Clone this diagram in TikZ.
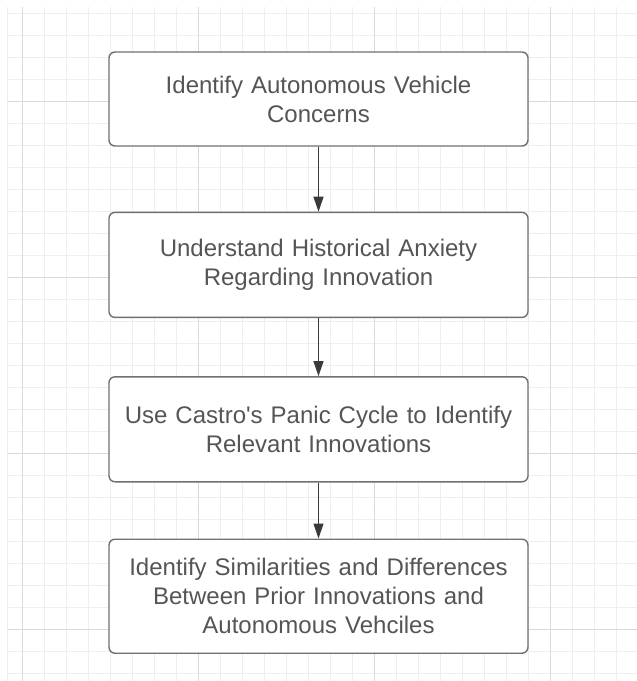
\documentclass[tikz,border=0pt]{standalone}
\usepackage{fontspec}
\setmainfont{Liberation Sans}
\usetikzlibrary{positioning, arrows.meta}
\definecolor{gridminor}{HTML}{EEEEEE}
\definecolor{gridmajor}{HTML}{DADADA}
\definecolor{boxline}{HTML}{707070}
\definecolor{boxtext}{HTML}{555555}
\definecolor{arrowline}{HTML}{3A3A3A}

\begin{document}
\begin{tikzpicture}[x=1pt, y=1pt,
  stepbox/.style={rectangle, rounded corners=6pt, draw=boxline, line width=1.4pt, fill=white,
    minimum width=419pt, text width=405pt, align=center, inner sep=4pt,
    text=boxtext, font=\fontsize{24}{29}\selectfont},
  flow/.style={draw=arrowline, line width=1.2pt, -{Triangle[length=15pt, width=10pt]}}]
%

%%% background and grid
\useasboundingbox (0,0) rectangle (637,-681);
\fill[white] (0,0) rectangle (637,-681);
\draw[gridminor, line width=0.8pt] (7,-7) -- (7,-681);
\foreach \k in {0,...,27}
  \draw[gridminor, line width=0.8pt] (22+22*\k,-7) -- (22+22*\k,-681);
\foreach \k in {0,...,30}
  \draw[gridminor, line width=0.8pt] (7,-13-22*\k) -- (637,-13-22*\k);
\foreach \k in {0,...,3}
  \draw[gridmajor, line width=0.8pt] (22+176*\k,-7) -- (22+176*\k,-681);
\foreach \k in {0,...,3}
  \draw[gridmajor, line width=0.8pt] (7,-101-176*\k) -- (637,-101-176*\k);

%%% nodes and boxes

%%% CONCERNS
\node [stepbox, minimum height=94pt] (concerns) at (318.5,-99) {Identify Autonomous Vehicle\\ Concerns};

%%% HISTORY
\node [stepbox, minimum height=105pt, below = 65pt of concerns] (history) {Understand Historical Anxiety\\ Regarding Innovation};

%%% PANIC CYCLE
\node [stepbox, minimum height=105pt, below = 58pt of history] (panic) {Use Castro\textquotesingle s Panic Cycle to Identify\\ Relevant Innovations};

%%% COMPARISON
\node [stepbox, minimum height=114pt, below = 56pt of panic] (compare) {Identify Similarities and Differences\\ Between Prior Innovations and\\ Autonomous Vehciles};

%%% connections, arrows

\draw [flow] (concerns) -- (history);
\draw [flow] (history) -- (panic);
\draw [flow] (panic) -- (compare);

\end{tikzpicture}
\end{document}
